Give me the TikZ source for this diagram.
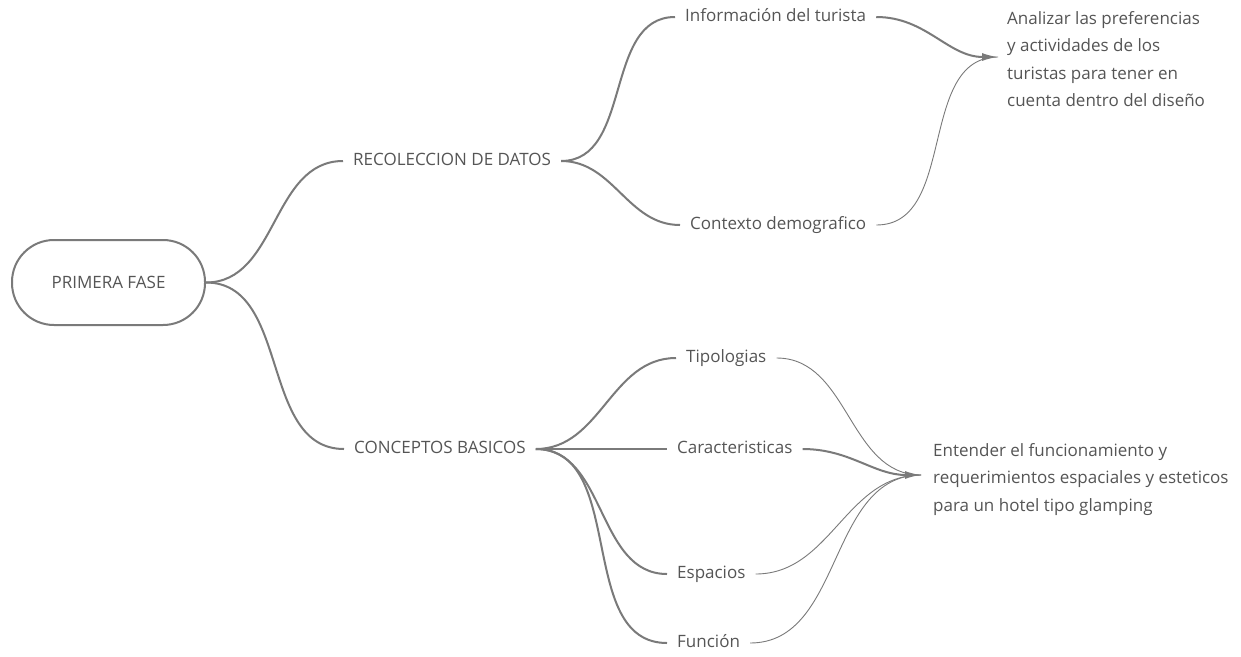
\documentclass[tikz,border=0pt]{standalone}
\usepackage{fontspec}
\setmainfont{Open Sans}
\usetikzlibrary{arrows.meta}
\definecolor{txt}{HTML}{555555}
\definecolor{ln}{HTML}{7A7A7A}
\begin{document}
\begin{tikzpicture}[x=1pt,y=-1pt,
  font=\fontsize{17}{27.5}\selectfont,
  lbl/.style={text=txt, inner xsep=10pt, inner ysep=0pt, text height=12pt, text depth=4pt, anchor=west},
  para/.style={text=txt, inner sep=0pt, align=left, anchor=north west},
  heavy/.style={draw=ln, line width=2pt},
  light/.style={draw=ln, line width=0.9pt},
  curve/.style={out=0, in=180},
  tip/.style={-{Latex[length=16pt,width=8pt]}}]
\fill[white] (0,0) rectangle (1241,656);
\useasboundingbox (0,0) rectangle (1241,656);

\node[draw=ln, line width=2pt, rounded corners=42pt, minimum width=193pt, minimum height=85pt, text=txt, inner sep=0pt] (pf) at (108.5,282.5) {PRIMERA FASE};

\node[lbl] (rec) at (343,161) {RECOLECCION DE DATOS};
\node[lbl] (con) at (344,449) {CONCEPTOS BASICOS};
\node[lbl] (inf) at (675,17) {Información del turista};
\node[lbl] (ctx) at (680,225) {Contexto demografico};
\node[lbl] (tip) at (676,358) {Tipologias};
\node[lbl] (car) at (667,449) {Caracteristicas};
\node[lbl] (esp) at (667,574) {Espacios};
\node[lbl] (fun) at (667,643) {Función};

\node[para] (an) at (1007,11) {Analizar las preferencias\\y actividades de los\\turistas para tener en\\cuenta dentro del diseño};
\node[para] (en) at (933,443) {Entender el funcionamiento y\\requerimientos espaciales y esteticos\\para un hotel tipo glamping};

\coordinate (a1) at (998,57);
\coordinate (a2) at (921,475);

\draw[heavy] (pf.east) to[curve] (rec.west);
\draw[heavy] (pf.east) to[curve] (con.west);

\draw[heavy] (rec.east) to[curve] (inf.west);
\draw[heavy] (rec.east) to[curve] (ctx.west);

\draw[heavy] (con.east) to[curve] (tip.west);
\draw[heavy] (con.east) -- (car.west);
\draw[heavy] (con.east) to[curve] (esp.west);
\draw[heavy] (con.east) to[curve] (fun.west);

\draw[light] (ctx.east) to[curve] (a1);
\draw[heavy, tip] (inf.east) to[curve] (a1);

\draw[light] (tip.east) to[curve] (a2);
\draw[light] (esp.east) to[curve] (a2);
\draw[light] (fun.east) to[curve] (a2);
\draw[heavy, tip] (car.east) to[curve] (a2);
\end{tikzpicture}
\end{document}
